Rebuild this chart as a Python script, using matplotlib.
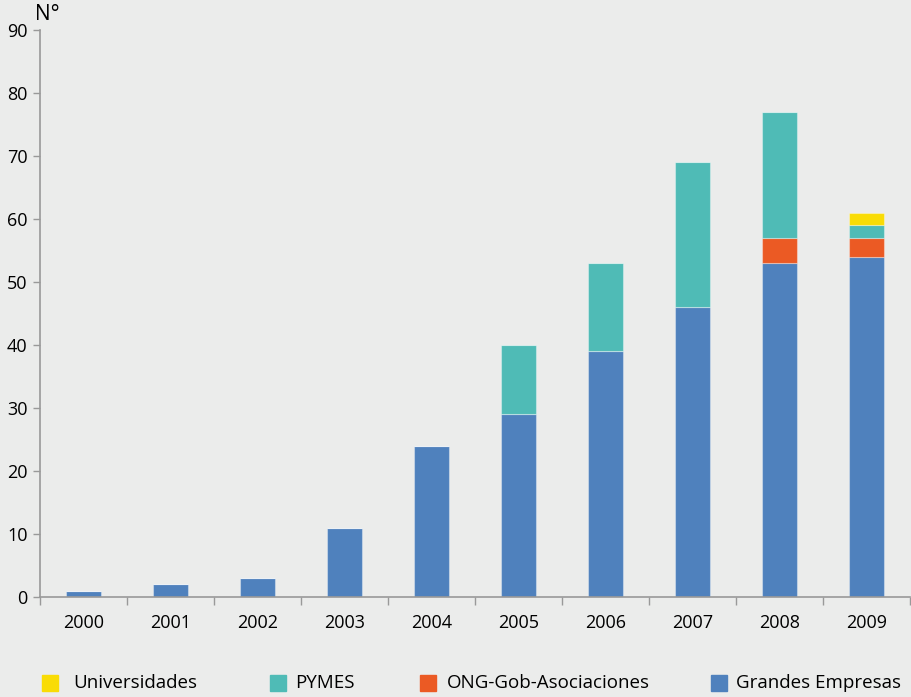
import matplotlib
matplotlib.use("Agg")
import matplotlib.pyplot as plt
from matplotlib.patches import Rectangle
import numpy as np

years = ["2000", "2001", "2002", "2003", "2004", "2005", "2006", "2007", "2008", "2009"]
grandes = [1, 2, 3, 11, 24, 29, 39, 46, 53, 54]
ong = [0, 0, 0, 0, 0, 0, 0, 0, 4, 3]
pymes = [0, 0, 0, 0, 0, 11, 14, 23, 20, 2]
univ = [0, 0, 0, 0, 0, 0, 0, 0, 0, 2]
yticks = [0, 10, 20, 30, 40, 50, 60, 70, 80, 90]
labels = ["Universidades", "PYMES", "ONG-Gob-Asociaciones", "Grandes Empresas"]

c_gr = "#4f81bd"
c_ong = "#eb5a24"
c_py = "#4fbbb6"
c_un = "#f9dc05"
bg = "#ebeceb"

plt.rcParams['font.family'] = ['Open Sans', 'DejaVu Sans']

W, H = 911, 697
fig = plt.figure(figsize=(W/100, H/100), dpi=100, facecolor=bg)
ax = fig.add_axes([40/W, 100/H, 870/W, 567/H], facecolor=bg)

x = np.arange(len(years))
w = 0.4
ec = (1, 1, 1, 0.35)
b = np.zeros(len(years))
for vals, col in [(grandes, c_gr), (ong, c_ong), (pymes, c_py), (univ, c_un)]:
    v = np.array(vals, dtype=float)
    ax.bar(x, v, w, bottom=b, color=col, edgecolor=ec, linewidth=0.8)
    b += v

ax.set_xlim(-0.5, len(years) - 0.5)
ax.set_ylim(0, 90)
ax.set_yticks(yticks)
ax.set_yticklabels([str(t) for t in yticks], fontsize=13)
ax.set_xticks(x)
ax.set_xticklabels(years, fontsize=13)
ax.set_xticks(np.arange(-0.5, len(years)), minor=True)
ax.tick_params(axis='x', which='major', length=0, pad=12)
ax.tick_params(axis='x', which='minor', length=6, color='#999999', width=1)
ax.tick_params(axis='y', length=5, color='#999999', width=1, pad=4)
for s in ['top', 'right']:
    ax.spines[s].set_visible(False)
for s in ['left', 'bottom']:
    ax.spines[s].set_color('#999999')
    ax.spines[s].set_linewidth(1.2)

fig.text(35/W, 1 - 15/H, "N°", fontsize=15, va='center', ha='left')

# legend, placed manually
colors = [c_un, c_py, c_ong, c_gr]
sq_x = [42, 270, 420, 711]
tx_x = [73, 295, 447, 736]
yc = 683
sz = 16
for lab, col, sx, tx in zip(labels, colors, sq_x, tx_x):
    fig.patches.append(Rectangle((sx/W, 1 - (yc + sz/2)/H), sz/W, sz/H,
                                 transform=fig.transFigure, color=col))
    fig.text(tx/W, 1 - yc/H, lab, fontsize=13.5, va='center', ha='left')

fig.savefig("out.png", dpi=100, facecolor=bg)
